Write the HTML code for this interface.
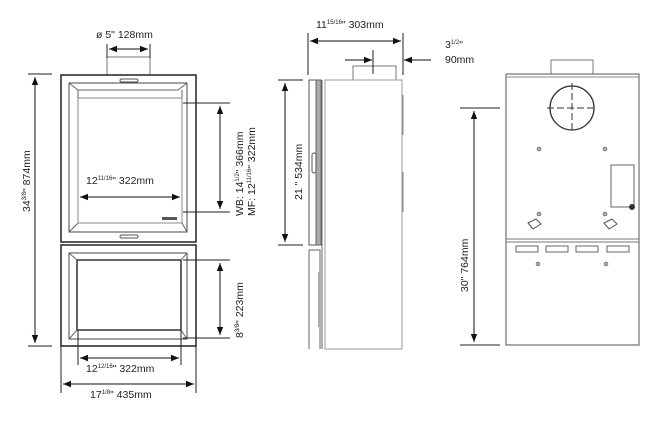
<!DOCTYPE html>
<html><head><meta charset="utf-8"><style>
html,body{margin:0;padding:0;background:#fff}
svg{display:block}
text{font-family:"Liberation Sans",sans-serif;font-size:10.5px;fill:#222}
.s{font-size:6px}
</style></head><body>
<svg width="670" height="421" viewBox="0 0 670 421" xmlns="http://www.w3.org/2000/svg">
<defs>
<marker id="a" viewBox="0 0 10 10" refX="10" refY="5" markerWidth="8" markerHeight="8" orient="auto-start-reverse"><path d="M0,1 L10,5 L0,9z" fill="#111"/></marker>
</defs>
<g fill="none" stroke="#333" stroke-width="1">
<!-- FRONT VIEW -->
<rect x="107" y="57" width="43" height="18" stroke="#777"/>
<rect x="61" y="75" width="135" height="167" stroke="#222" stroke-width="1.5"/>
<rect x="61" y="245" width="135" height="101" stroke="#222" stroke-width="1.5"/>
<rect x="69" y="83" width="118" height="149" stroke="#444"/>
<rect x="78" y="98" width="104" height="125" stroke="#888"/>
<path d="M69,83 L78,90 L178,90 L187,83 M69,232 L78,223 M187,232 L182,223 M78,90 L78,98 M182,90 L182,98" stroke="#666"/>
<rect x="69" y="253" width="118" height="86" stroke="#444"/>
<rect x="77" y="260" width="104" height="70" stroke="#333" stroke-width="1.5"/>
<path d="M69,253 L77,260 M187,253 L181,260 M69,339 L77,330 M187,339 L181,330" stroke="#666"/>
<rect x="120" y="79" width="18" height="3" rx="1.5" stroke="#555"/>
<rect x="120" y="235" width="18" height="3" rx="1.5" stroke="#555"/>
<rect x="162" y="217" width="15" height="3" fill="#555" stroke="none"/>
<!-- dims front -->
<path d="M107,44 V58 M150,44 V58" stroke="#222"/>
<line x1="109" y1="49" x2="148" y2="49" stroke="#111" marker-start="url(#a)" marker-end="url(#a)"/>
<path d="M28,74 H52 M28,346 H52" stroke="#222"/>
<line x1="35" y1="77" x2="35" y2="343" stroke="#111" marker-start="url(#a)" marker-end="url(#a)"/>
<path d="M183,103 H230 M183,212 H230" stroke="#222"/>
<line x1="220" y1="106" x2="220" y2="209" stroke="#111" marker-start="url(#a)" marker-end="url(#a)"/>
<path d="M183,260 H230 M183,338 H230" stroke="#222"/>
<line x1="220" y1="263" x2="220" y2="335" stroke="#111" marker-start="url(#a)" marker-end="url(#a)"/>
<line x1="80" y1="197" x2="180" y2="197" stroke="#111" marker-start="url(#a)" marker-end="url(#a)"/>
<path d="M78,330 V365 M181,330 V365" stroke="#222"/>
<line x1="80" y1="358" x2="179" y2="358" stroke="#111" marker-start="url(#a)" marker-end="url(#a)"/>
<path d="M61,346 V393 M196,346 V393" stroke="#222"/>
<line x1="63" y1="384" x2="194" y2="384" stroke="#111" marker-start="url(#a)" marker-end="url(#a)"/>
<!-- SIDE VIEW -->
<rect x="353" y="66" width="43" height="14" stroke="#777"/>
<rect x="325" y="80" width="77" height="269" stroke="#999"/>
<line x1="322" y1="80" x2="322" y2="349" stroke="#666"/>
<rect x="309" y="80" width="12" height="165" stroke="#555"/>
<rect x="316" y="80" width="5" height="165" fill="#aaa" stroke="#666"/>
<rect x="312" y="153" width="4" height="20" rx="2" stroke="#555"/>
<path d="M309,250 H320 V349 M309,250 V349" stroke="#666"/>
<rect x="318" y="272" width="2" height="55" fill="#aaa" stroke="none"/>
<path d="M403,95 V135 M403,172 V212" stroke="#888"/>
<path d="M308,33 V75 M403,33 V75" stroke="#222"/>
<line x1="310" y1="41" x2="401" y2="41" stroke="#111" marker-start="url(#a)" marker-end="url(#a)"/>
<path d="M373,50 V74" stroke="#222"/>
<line x1="345" y1="60" x2="372" y2="60" stroke="#111" marker-end="url(#a)"/>
<line x1="431" y1="60" x2="404" y2="60" stroke="#111" marker-end="url(#a)"/>
<path d="M278,80 H303 M278,245 H303" stroke="#222"/>
<line x1="285" y1="83" x2="285" y2="242" stroke="#111" marker-start="url(#a)" marker-end="url(#a)"/>
<!-- BACK VIEW -->
<rect x="551" y="60" width="42" height="14" stroke="#777"/>
<rect x="506" y="74" width="133" height="271" stroke="#555"/>
<line x1="506" y1="77" x2="639" y2="77" stroke="#888"/>
<path d="M506,239 H639 M506,242 H639" stroke="#777"/>
<circle cx="572" cy="108" r="22" stroke="#333" stroke-width="1.3"/>
<path d="M547,108 H597 M572,83 V133" stroke="#333" stroke-dasharray="7,3"/>
<rect x="611" y="165" width="23" height="42" stroke="#666"/>
<circle cx="632" cy="207" r="2.5" fill="#333"/>
<g stroke="#666"><rect x="516" y="246" width="22" height="6"/><rect x="546" y="246" width="22" height="6"/><rect x="576" y="246" width="22" height="6"/><rect x="607" y="246" width="22" height="6"/></g>
<g fill="#bbb" stroke="#777"><circle cx="539" cy="149" r="1.8"/><circle cx="605" cy="149" r="1.8"/><circle cx="539" cy="214" r="1.8"/><circle cx="605" cy="214" r="1.8"/><circle cx="538" cy="264" r="1.8"/><circle cx="606" cy="264" r="1.8"/></g>
<path d="M528,223 l8,-4 l5,5 l-8,5z M604,223 l8,-4 l5,5 l-8,5z" stroke="#555"/>
<path d="M460,108 H500 M460,345 H500" stroke="#222"/>
<line x1="474" y1="111" x2="474" y2="342" stroke="#111" marker-start="url(#a)" marker-end="url(#a)"/>
</g>
<!-- TEXT -->
<text x="96" y="38">ø 5"  128mm</text>
<text transform="translate(30,212) rotate(-90)">34<tspan class="s" dy="-4">3/8</tspan><tspan dy="4">"  874mm</tspan></text>
<text transform="translate(243,216) rotate(-90)">WB: 14<tspan class="s" dy="-4">1/2</tspan><tspan dy="4">"  366mm</tspan></text>
<text transform="translate(255,216) rotate(-90)">MF: 12<tspan class="s" dy="-4">11/16</tspan><tspan dy="4">"  322mm</tspan></text>
<text transform="translate(243,338) rotate(-90)">8<tspan class="s" dy="-4">3/8</tspan><tspan dy="4">"  223mm</tspan></text>
<text x="86" y="184">12<tspan class="s" dy="-4">11/16</tspan><tspan dy="4">"  322mm</tspan></text>
<text x="86" y="372">12<tspan class="s" dy="-4">12/16</tspan><tspan dy="4">"  322mm</tspan></text>
<text x="90" y="398">17<tspan class="s" dy="-4">1/8</tspan><tspan dy="4">"  435mm</tspan></text>
<text x="316" y="28">11<tspan class="s" dy="-4">15/16</tspan><tspan dy="4">"  303mm</tspan></text>
<text x="445" y="48">3<tspan class="s" dy="-4">1/2</tspan><tspan dy="4">"</tspan></text>
<text x="445" y="63">90mm</text>
<text transform="translate(302,200) rotate(-90)">21 "  534mm</text>
<text transform="translate(468,292) rotate(-90)">30"  764mm</text>
</svg>
</body></html>
